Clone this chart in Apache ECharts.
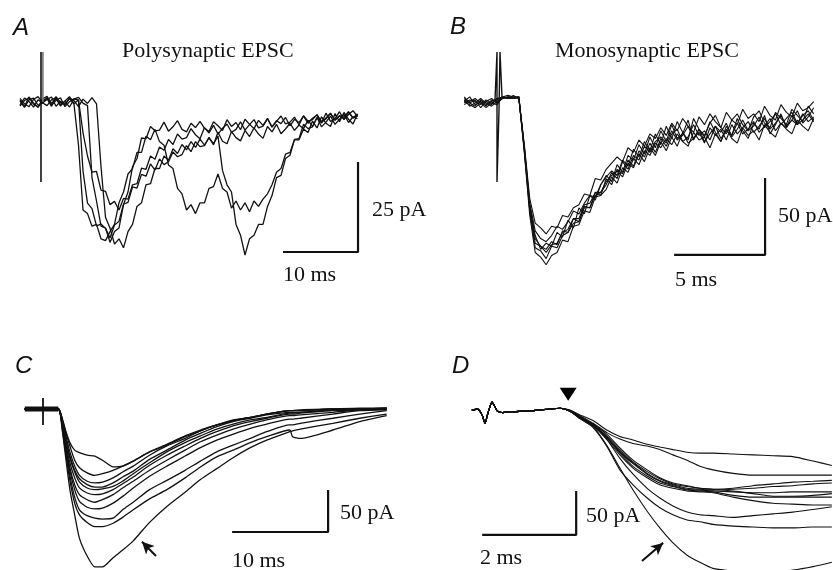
<!DOCTYPE html>
<html><head><meta charset="utf-8">
<script src="https://cdn.jsdelivr.net/npm/echarts@6/dist/echarts.min.js"></script>
<style>html,body{margin:0;padding:0;background:#fff}#c{width:833px;height:570px}</style>
</head><body><div id="c"></div>
<script>
// ================= DATA =================
// Panel A: polysynaptic EPSC, 5 sweeps, sampled every 0.6 ms from -2.8 ms (pA)
const A_T0 = -2.8, A_DT = 0.6;
const polyA1 = [0.5,-1.2,1.4,-0.3,-1.5,0.8,1.6,-0.4,0.9,-1.1,0.3,1.5,-0.6,
 -12,-30,-31,-34.5,-34,-38,-38.5,-36,-34,-28,-25,-20,-18.5,-14,-14,-9.5,-10.5,-7.6,-11,-12,
 -17.5,-18.5,-24,-25.5,-30,-28.5,-31,-28,-28,-24,-23.5,-20,-24,-25,-29.5,-27.5,-30,-28,-30.5,-27.5,
 -29,-27,-25.5,-23,-19.5,-18.5,-14.5,-14,-10.5,-10.5,-7.5,-8.5,-5.3,
 -7.2,-4.1,-5.9,-6.8,-3.2,-5.5,-2.9,-4.8,-6.1,-3.3];
const polyA2 = [-0.8,1.1,0.2,-1.4,0.6,-0.2,1.3,-0.9,0.4,1.2,-1.3,0.1,0.9,
 0.5,
 -19.2,-28.1,-29.6,-34.4,-33.9,-35.1,-37.8,-34.2,-33.1,-28.4,-27.9,-23.6,-23.9,-20.1,-20.6,-17.2,-18.9,-15.8,-17.4,-16.6,-13.9,-15.2,-14.6,-12.1,-13.8,-11.0,-12.4,
 -12.1,-9.8,-11.9,-8.4,-10.9,-11.6,-8.2,-9.9,-10.8,-7.9,
 -9.6,-7.2,-8.9,-10.1,-6.8,-8.3,-6.2,-8.8,-7.5,-5.9,-7.9,-6.4,
 -7.4,-5.1,-6.8,-4.3,-6.9,-5.6,-3.9,-6.2,-4.8,-3.4,-5.7,-4.1,-4.6];
const polyA3 = [1.0,-0.5,-1.3,0.7,1.5,-0.2,-1.0,0.6,1.2,-0.7,0.2,-1.4,0.8,1.3,-0.3,
 -1,-21,-27.5,-34.5,-35,-39,-36,-35,-28.5,-25,-18,-15.7,-10,-10.2,-6.8,-8,
 -7.8,-5.6,-8.1,-6.9,-5.2,-7.6,-8.3,-5.9,-7.1,-5.4,
 -7.3,-8.2,-5.5,-6.6,-7.9,-4.9,-6.8,-5.7,-7.7,-4.8,-6.2,-7.4,-5.1,-6.5,-4.6,-7.0,-5.4,-3.9,-6.1,-5.6,
 -4.2,-6.4,-3.8,-5.3,-4.9,-3.5,-5.8,-4.4,-3.1,-5.1,-3.9,-4.7,-2.8,-4.5,-3.6];
const polyA4 = [-1.1,0.4,1.2,-0.6,-1.4,0.3,0.9,-1.2,1.5,-0.1,-0.8,1.0,-0.5,0.6,
 -8.5,-15,-19.5,-19.3,-24.5,-24.8,-28.5,-27.6,-30,-26.8,-27,-23,-22.7,-18.4,-18.7,-15,-15.9,-12.5,-13.4,-10.4,-11.8,-8.9,-10.3,
 -9.9,-7.4,-9.1,-10.2,-7.1,-8.6,-6.5,-8.9,-7.3,
 -6.1,-8.4,-7.6,-5.5,-7.8,-6.3,-4.9,-7.2,-6.7,-4.6,-6.9,-5.2,-6.0,-4.3,-6.6,-4.8,-5.7,-3.9,-5.9,-4.5,
 -3.6,-5.4,-4.7,-3.2,-5.0,-3.8,-4.2,-2.7,-4.4,-3.3];
const polyA5 = [0.3,-1.5,0.6,1.1,-0.9,-0.3,0.7,1.4,-1.2,0.2,-0.6,1.1,0.4,-1.3,0.8,-0.4,1.2,
 -0.5,-18,-32,-35,-39.5,-38,-40.5,-36,-34,-29,-28,-23,-22.7,-18.4,-18.5,-15,-16.2,-13,-14.3,-11.8,
 -13.3,-11,-12.6,-10.3,-12,-10,-11.6,-9.5,
 -19,-23,-25,-34,-37,-42.5,-38,-37,-34,-34,-29,-26,-21,-20.4,-15.7,-14.8,-10.4,-10.2,-6.2,-7.4,
 -6.9,-4.3,-5.8,-3.1,-5.4,-4.6,-2.7,-4.9,-3.5,-2.4,-4.1];
const artifactA = [[0, 13.9], [0, -22.2]];
const artifactA2 = [[0.25, 13.9], [0.25, 0]];

// Panel B: monosynaptic EPSC, 7 sweeps, sampled every 0.3 ms from -1.8 ms (pA)
const B_T0 = -1.8, B_DT = 0.3;
const monoB1 = [-1,2,-3,-1,-4,0,-2, 2,1,3,1, -31,-69,-88,-97,-93,-95,-86,-89,-78,-83,-70,-74,-62,-65,-55,
 -49,-53,-42,-47,-36,-39,-29,-35,-24,-31,-20,-27,-16,-25,-22,-13,-26,-19,-24,-14,-21,-27,-17,-23,-12,-20,-25,-15,-19,-10,-22,-16,-9,-18,-13,-7,-15,-11,-5];
const monoB2 = [1,-2,0,-5,-1,-3,1, 1,2,1,2, -34,-75,-99,-102,-107,-101,-99,-91,-92,-82,-81,-72,-73,-63,-62,
 -58,-50,-54,-44,-47,-38,-42,-33,-36,-28,-31,-25,-29,-22,-27,-30,-21,-26,-24,-31,-22,-27,-19,-25,-28,-18,-23,-20,-26,-16,-21,-24,-15,-19,-22,-13,-17,-20,-12];
const monoB3 = [-3,-1,1,-2,-5,-2,0, 2,3,2,1, -29,-64,-80,-83,-87,-82,-83,-75,-76,-70,-68,-61,-62,-51,-52,
 -45,-41,-37,-40,-31,-34,-26,-30,-22,-25,-18,-23,-15,-20,-12,-17,-21,-11,-16,-9,-14,-18,-8,-13,-16,-6,-12,-9,-14,-4,-10,-13,-3,-8,-11,-2,-7,-5,-1];
const monoB4 = [0,-4,-2,1,-2,-4,-1, 1,2,2,1, -32,-71,-93,-95,-99,-94,-93,-86,-84,-77,-77,-68,-67,-60,-60,
 -55,-47,-51,-40,-45,-36,-39,-30,-34,-27,-24,-28,-20,-26,-23,-17,-25,-21,-28,-18,-23,-19,-26,-16,-22,-18,-14,-21,-17,-12,-19,-15,-10,-17,-13,-16,-9,-14,-11];
const monoB5 = [-2,0,-1,-3,0,-2,-3, 2,1,1,2, -30,-67,-85,-90,-92,-88,-82,-84,-79,-72,-74,-67,-62,-63,-55,
 -50,-46,-49,-39,-43,-32,-37,-27,-33,-22,-29,-17,-25,-14,-21,-26,-12,-19,-23,-15,-10,-18,-22,-13,-9,-16,-20,-11,-7,-15,-18,-8,-12,-16,-6,-10,-14,-4,-9];
const monoB6 = [-1,-3,-5,-2,-1,1,-2, 1,2,1,2, -33,-72,-96,-98,-103,-95,-96,-88,-86,-80,-79,-70,-70,-62,-60,
 -53,-49,-46,-50,-41,-44,-35,-40,-31,-36,-27,-33,-24,-30,-21,-28,-25,-19,-27,-22,-17,-25,-20,-23,-15,-22,-19,-14,-21,-17,-12,-20,-15,-18,-10,-16,-13,-9,-14];
const monoB7 = [2,-2,-4,0,-3,-1,1, 2,1,2,2, -31,-70,-90,-95,-97,-92,-94,-85,-86,-77,-79,-69,-70,-60,-62,
 -51,-55,-45,-48,-39,-43,-33,-37,-28,-34,-25,-30,-22,-19,-27,-24,-16,-23,-20,-26,-17,-21,-15,-24,-19,-13,-20,-17,-11,-18,-14,-9,-16,-12,-8,-15,-10,-7,-13];
const artifactB = [[-0.11,0],[0,31.2],[0,-53.2],[0.11,-6.5],[0.165,31.2],[0.275,1.9]];

// Panel C: 11 sweeps (ms, pA)
const cTime = [-1.9,0,1.6,2.0,2.4,2.8,3.3,3.8,4.6,5.4,6.2,7.3,8.3,9.4,11.1,12.9,14.8,16.4,18.1,19.8,21.6,23.3,25.7,26.0,26.8,30.2,33.0,35.8];
const cPre = [0,0,0];
const cSweeps = [
 [-25,-61,-96,-126,-154,-175,-188,-188,-177,-168,-157,-135,-116,-99,-84,-71,-58,-46,-37,-27,-26,-24,-17,-11,-6],
 [-23,-55,-85,-112,-126,-135,-140,-140,-136,-129,-120,-107,-96,-82,-69,-57,-49,-40,-33,-25,-33,-35,-25,-15,-8],
 [-19,-49,-79,-105,-120,-127,-130,-131,-130,-120,-111,-96,-85,-73,-62,-51,-43,-35,-27,-19,-19,-17,-11,-6,-2],
 [-19,-46,-73,-96,-110,-117,-119,-118,-112,-104,-94,-80,-68,-56,-46,-37,-30,-23,-18,-12,-12,-11,-6,-2,-1],
 [-18,-45,-70,-90,-102,-108,-111,-108,-102,-94,-86,-73,-61,-49,-39,-31,-24,-18,-13,-8,-8,-7,-4,-1,0],
 [-17,-43,-64,-82,-94,-100,-102,-101,-96,-89,-81,-67,-55,-44,-35,-27,-20,-15,-11,-6,-6,-5,-2,-1,0],
 [-15,-39,-58,-75,-87,-94,-96,-95,-92,-86,-77,-64,-51,-40,-32,-24,-18,-13,-10,-5,-5,-4,-1,0,0],
 [-14,-37,-56,-73,-83,-90,-93,-93,-88,-81,-74,-60,-49,-37,-29,-21,-15,-11,-7,-4,-4,-4,-1,0,1],
 [-13,-33,-51,-68,-79,-86,-88,-87,-82,-75,-68,-55,-44,-35,-26,-19,-14,-10,-6,-2,-2,-2,0,0,1],
 [-12,-29,-44,-61,-70,-76,-79,-77,-73,-68,-62,-51,-43,-33,-26,-19,-14,-10,-6,-2,-2,-2,0,0,1],
 [-11,-27,-40,-49,-52,-55,-56,-61,-69,-68,-62,-51,-42,-32,-25,-19,-13,-10,-6,-2,-2,-1,0,1,1]
];
const cBaseline = [[-1.9,0],[1.6,0]];
const artifactC = [[0,13],[0,-19]];

// Panel D: 11 sweeps, expanded time scale (ms, pA)
const dTime = [-0.28,-0.15,-0.06,0,0.06,0.15,0.26,0.38,0.53,0.96,1.6,1.8,2.0,2.3,2.6,2.87,3.15,3.45,3.72,4.0,4.3,4.57,4.85,5.28,5.7,6.13,6.55,6.98,7.38];
const dPre = [0,1,-6,-15,-4,9,-1,-3,-2,-1];
const dSweeps = [
 [2,-1,-9,-19,-41,-66,-91,-115,-134,-151,-165,-173,-180,-183,-184,-184,-182,-178,-173],
 [2,-1,-9,-20,-42,-68,-85,-100,-111,-119,-125,-127,-130,-132,-133,-134,-134,-133,-133],
 [2,-1,-7,-17,-34,-55,-73,-89,-100,-109,-116,-119,-120,-122,-120,-118,-116,-113,-110],
 [2,-1,-7,-16,-28,-43,-57,-68,-77,-83,-86,-89,-90,-89,-86,-84,-82,-81,-80],
 [2,-1,-7,-17,-31,-47,-60,-72,-80,-85,-89,-90,-91,-90,-89,-87,-86,-84,-83],
 [2,-1,-8,-18,-32,-48,-61,-73,-81,-86,-90,-91,-92,-93,-94,-94,-93,-93,-93],
 [2,-1,-7,-16,-30,-45,-59,-70,-78,-84,-87,-89,-90,-92,-95,-98,-98,-97,-95],
 [2,-1,-8,-17,-32,-49,-64,-75,-83,-87,-91,-92,-93,-97,-99,-99,-99,-99,-99],
 [2,-1,-8,-18,-34,-51,-66,-77,-85,-89,-92,-93,-94,-99,-103,-106,-107,-108,-108],
 [2,0,-5,-12,-23,-30,-34,-39,-42,-45,-48,-49,-49,-50,-51,-52,-53,-58,-63],
 [2,0,-6,-15,-26,-33,-38,-41,-45,-51,-57,-64,-68,-72,-74,-74,-74,-74,-74]
];
const dMarker = [[1.77, 18]];

// Scale bars: [start time, start current, length ms, length pA]
const scaleA = [32.27, -41.67, 10, 25];
const scaleB = [9.73, -100.6, 5, 50];
const scaleC = [19.7, -146.4, 10, 50];
const scaleD = [-0.06, -142, 2, 50];
// Annotation arrows [tail, head]
const arrowC = [[11.77, -175], [10.31, -158]];
const arrowD = [[3.34, -171.6], [3.79, -151]];

// ================= BUILD =================
const INK = '#111';
function uniform(arr, t0, dt) { return arr.map((v, i) => [+(t0 + dt * i).toFixed(3), v]); }
function onTime(times, vals) { return vals.map((v, i) => [times[i], v]); }
function bar(s) { return [[s[0], s[1]], [s[0] + s[2], s[1]], [s[0] + s[2], s[1] + s[3]]]; }
function line(gi, data, w, color, smooth) {
  return { type: 'line', xAxisIndex: gi, yAxisIndex: gi, data: data, symbol: 'none', showSymbol: false,
    smooth: smooth || false, lineStyle: { color: color || INK, width: w }, silent: true, animation: false, z: 3 };
}
const series = [];
[polyA1, polyA2, polyA3, polyA4, polyA5].forEach(a => series.push(line(0, uniform(a, A_T0, A_DT), 1.3)));
series.push(line(0, artifactA, 1.6));
series.push(line(0, artifactA2, 1.6, '#777'));
series.push(line(0, bar(scaleA), 2.2));

[monoB1, monoB2, monoB3, monoB4, monoB5, monoB6, monoB7].forEach(a => series.push(line(1, uniform(a, B_T0, B_DT), 1.1)));
series.push(line(1, artifactB, 1.4));
series.push(line(1, bar(scaleB), 2.2));

series.push(line(2, cBaseline, 5));
cSweeps.forEach(s => series.push(line(2, onTime(cTime, cPre.concat(s)), 1.3, INK, 0.2)));
series.push(line(2, artifactC, 1.8));
series.push(line(2, bar(scaleC), 2.2));
series.push({ type: 'line', xAxisIndex: 2, yAxisIndex: 2, data: [], silent: true, animation: false,
  markLine: { silent: true, animation: false, symbol: ['none', 'arrow'], symbolSize: [9, 12], label: { show: false },
    lineStyle: { color: INK, width: 2, type: 'solid' },
    data: [[{ coord: arrowC[0] }, { coord: arrowC[1] }]] } });

dSweeps.forEach(s => series.push(line(3, onTime(dTime, dPre.concat(s)), 1.1, INK, 0.2)));
series.push(line(3, bar(scaleD), 2.2));
series.push({ type: 'scatter', xAxisIndex: 3, yAxisIndex: 3, data: dMarker, symbol: 'triangle', symbolRotate: 180,
  symbolSize: [17, 13], itemStyle: { color: '#000', opacity: 1 }, silent: true, animation: false, z: 5 });
series.push({ type: 'line', xAxisIndex: 3, yAxisIndex: 3, data: [], silent: true, animation: false,
  markLine: { silent: true, animation: false, symbol: ['none', 'arrow'], symbolSize: [9, 12], label: { show: false },
    lineStyle: { color: INK, width: 2, type: 'solid' },
    data: [[{ coord: arrowD[0] }, { coord: arrowD[1] }]] } });

const grids = [
  { left: 11, top: 48, width: 360, height: 216 },
  { left: 460.6, top: 46.1, width: 373.1, height: 223.3 },
  { left: 4.6, top: 383.8, width: 403.2, height: 193.2 },
  { left: 461.5, top: 383.6, width: 376, height: 202.4 }
].map(g => Object.assign({ containLabel: false, outerBoundsMode: 'none', show: false }, g));
const xr = [[-4, 44], [-2, 18.5], [-4, 38], [-0.5, 7.5]];
const yr = [[-45, 15], [-110, 35], [-200, 30], [-200, 30]];
const xAxis = xr.map((r, i) => ({ type: 'value', gridIndex: i, min: r[0], max: r[1], show: false }));
const yAxis = yr.map((r, i) => ({ type: 'value', gridIndex: i, min: r[0], max: r[1], show: false }));

const SERIF = '22px "Liberation Serif", "Times New Roman", serif';
const LETTER = 'italic 24px "Liberation Sans", Arial, sans-serif';
function txt(s, x, baseline, font) {
  return { type: 'text', x: x, y: baseline - 7, silent: true,
    style: { text: s, font: font, fill: INK, align: 'left', verticalAlign: 'middle' } };
}
const graphic = [
  txt('A', 13, 35, LETTER), txt('B', 450, 34, LETTER), txt('C', 15, 373, LETTER), txt('D', 452, 373, LETTER),
  txt('Polysynaptic EPSC', 122, 58, SERIF), txt('Monosynaptic EPSC', 555, 58, SERIF),
  txt('25 pA', 372, 217, SERIF), txt('10 ms', 283, 282, SERIF),
  txt('50 pA', 778, 223, SERIF), txt('5 ms', 675, 287, SERIF),
  txt('50 pA', 340, 520, SERIF), txt('10 ms', 232, 568, SERIF),
  txt('50 pA', 586, 523, SERIF), txt('2 ms', 480, 565, SERIF)
];

const chart = echarts.init(document.getElementById('c'), null, { renderer: 'canvas' });
chart.setOption({ backgroundColor: '#fff', animation: false, grid: grids, xAxis: xAxis, yAxis: yAxis,
  series: series, graphic: graphic, tooltip: { show: false } });
</script></body></html>
